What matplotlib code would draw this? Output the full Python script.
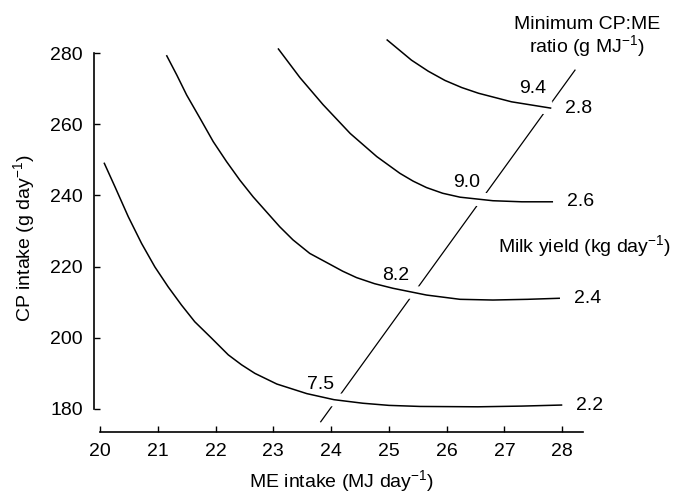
import matplotlib
matplotlib.use("Agg")
import matplotlib.pyplot as plt
import matplotlib.patheffects as pe

plt.rcParams['font.family'] = ['Liberation Sans', 'DejaVu Sans']
plt.rcParams['mathtext.fontset'] = 'custom'
plt.rcParams['mathtext.rm'] = 'Liberation Sans'
plt.rcParams['mathtext.it'] = 'Liberation Sans'

# milk yield curves (kg/day): ME intake vs CP intake
me_22 = [20.07, 20.26, 20.49, 20.72, 20.95, 21.18, 21.41, 21.64, 21.93, 22.22,
         22.45, 22.68, 23.06, 23.58, 24.05, 24.55, 25.0, 25.54, 26.54, 27.3, 28.0]
cp_22 = [249.2, 242.4, 234.0, 226.5, 219.9, 214.3, 209.2, 204.5, 199.9, 195.2,
         192.4, 190.0, 187.0, 184.3, 182.6, 181.6, 181.0, 180.7, 180.6, 180.8, 181.1]

me_24 = [21.15, 21.33, 21.50, 21.73, 21.96, 22.19, 22.42, 22.65, 22.88, 23.11,
         23.34, 23.63, 23.95, 24.2, 24.44, 24.75, 25.07, 25.65, 26.23, 26.80, 27.4, 27.96]
cp_24 = [279.4, 273.8, 268.2, 261.7, 255.1, 249.5, 244.3, 239.6, 235.4, 231.2,
         227.5, 223.7, 220.9, 218.7, 216.9, 215.2, 213.9, 212.0, 210.8, 210.6, 210.8, 211.1]

me_26 = [23.08, 23.46, 23.86, 24.33, 24.79, 25.19, 25.42, 25.65, 25.93, 26.23, 26.80, 27.3, 27.84]
cp_26 = [281.3, 273.1, 265.5, 257.4, 250.9, 246.2, 244.0, 242.2, 240.6, 239.5, 238.5, 238.2, 238.2]

me_28 = [24.96, 25.39, 25.68, 25.97, 26.26, 26.55, 27.12, 27.81]
cp_28 = [283.8, 278.0, 274.9, 272.3, 270.3, 268.7, 266.3, 264.5]

curves = [(me_22, cp_22, '2.2'), (me_24, cp_24, '2.4'),
          (me_26, cp_26, '2.6'), (me_28, cp_28, '2.8')]

# minimum CP:ME ratio line and its labels
ratio_me = [23.82, 28.22]
ratio_cp = [176.4, 275.2]
ratio_labels = ['7.5', '8.2', '9.0', '9.4']
ratio_lab_me = [23.81, 25.12, 26.35, 27.48]
ratio_lab_cp = [187.0, 217.6, 243.6, 269.9]

xticks = [20, 21, 22, 23, 24, 25, 26, 27, 28]
yticks = [180, 200, 220, 240, 260, 280]

fig = plt.figure(figsize=(6.9, 4.94), dpi=100)
ax = fig.add_axes([0, 0, 1, 1])
ax.set_xlim(18.27, 30.21)
ax.set_ylim(156.1, 294.9)

# ratio line goes under the curves, the white halo breaks it at each crossing
ax.plot(ratio_me, ratio_cp, color='black', lw=0.9, zorder=2)
halo = [pe.Stroke(linewidth=10, foreground='white'), pe.Normal()]
for me, cp, lab in curves:
    ax.plot(me, cp, color='black', lw=1.1, zorder=3, path_effects=halo,
            solid_capstyle='butt', solid_joinstyle='round')
    ax.annotate(lab, (me[-1], cp[-1]), xytext=(10, 0), textcoords='offset points',
                ha='left', va='center', fontsize=14)

for lab, x, y in zip(ratio_labels, ratio_lab_me, ratio_lab_cp):
    ax.text(x, y, lab, ha='center', va='center', fontsize=14, zorder=4)

ax.text(28.43, 284.3, 'Minimum CP:ME\nratio (g MJ$^{-1}$)', ha='center', va='center',
        fontsize=14, linespacing=1.0)
ax.text(26.89, 225.8, 'Milk yield (kg day$^{-1}$)', ha='left', va='center', fontsize=14)

# detached axes like the original drawing
for side in ['top', 'right']:
    ax.spines[side].set_visible(False)
ax.spines['left'].set_position(('data', 19.9))
ax.spines['left'].set_bounds(180, 280)
ax.spines['bottom'].set_position(('data', 173.5))
ax.spines['bottom'].set_bounds(20, 28.35)
for side in ['left', 'bottom']:
    ax.spines[side].set_linewidth(1.2)

ax.set_xticks(xticks)
ax.set_yticks(yticks)
ax.tick_params(direction='in', length=4, width=1, labelsize=14, pad=8)

ax.set_xlabel('ME intake (MJ day$^{-1}$)', fontsize=14)
ax.set_ylabel('CP intake (g day$^{-1}$)', fontsize=14)
ax.xaxis.set_label_coords(342 / 690, 1 - 481 / 494)
ax.yaxis.set_label_coords(24 / 690, 1 - 238 / 494)
ax.xaxis.label.set_va('center')
ax.yaxis.label.set_va('center')

fig.savefig('out.png', dpi=100)
